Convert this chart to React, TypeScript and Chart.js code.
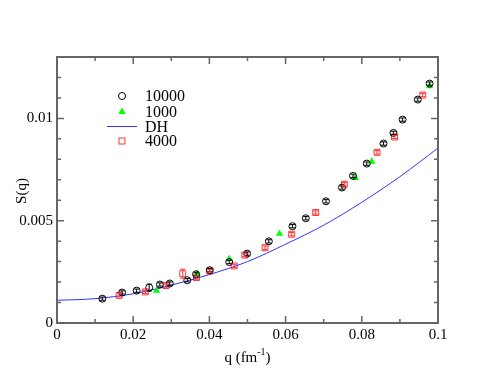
import React, { useEffect, useRef } from 'react';
import { Chart, registerables } from 'chart.js';
Chart.register(...registerables);

// ---- data ----
const q10000 = [0.0119, 0.0171, 0.0209, 0.0242, 0.027, 0.0296, 0.0342, 0.0365, 0.0401, 0.0452, 0.0499, 0.0556, 0.0618, 0.0653, 0.0706, 0.0748, 0.0777, 0.0813, 0.0857, 0.0883, 0.0907, 0.0947, 0.0978];
const s10000 = [0.00119, 0.00149, 0.00158, 0.00173, 0.00188, 0.00193, 0.00209, 0.00238, 0.00258, 0.00298, 0.00339, 0.00399, 0.00473, 0.00512, 0.00595, 0.00662, 0.00719, 0.00779, 0.00877, 0.00929, 0.00994, 0.01092, 0.0117];
const e10000 = [0.00008, 0.00008, 0.00008, 0.00017, 0.00008, 0.00008, 0.00008, 0.00008, 0.00008, 0.00008, 0.00008, 0.00008, 0.00008, 0.00008, 0.00008, 0.00008, 0.00008, 0.00008, 0.00008, 0.00008, 0.00008, 0.00008, 0.00008];

const q1000 = [0.0261, 0.0368, 0.0452, 0.0584, 0.0783, 0.0826, 0.0978];
const s1000 = [0.00158, 0.00241, 0.00313, 0.00437, 0.00709, 0.00789, 0.01158];

const q4000 = [0.0163, 0.0232, 0.0286, 0.033, 0.0366, 0.0401, 0.0465, 0.0493, 0.0546, 0.0616, 0.0679, 0.0754, 0.084, 0.0886, 0.096];
const s4000 = [0.00135, 0.00152, 0.00183, 0.00241, 0.00222, 0.00254, 0.00279, 0.00332, 0.00368, 0.00434, 0.0054, 0.00678, 0.00834, 0.00909, 0.01114];
const e4000 = [0.00008, 0.00008, 0.00008, 0.00022, 0.00008, 0.00008, 0.00008, 0.00008, 0.00008, 0.00008, 0.00008, 0.00008, 0.00008, 0.00008, 0.00008];

const qDH = [0, 0.01, 0.02, 0.03, 0.04, 0.05, 0.06, 0.07, 0.08, 0.09, 0.1];
const sDH = [0.00111, 0.00119, 0.00143, 0.00185, 0.00237, 0.003, 0.00385, 0.00478, 0.0059, 0.00715, 0.00855];

const legendLabels = ['10000', '1000', 'DH', '4000'];
const xMajor = [0, 0.02, 0.04, 0.06, 0.08, 0.1];
const xMinor = [0.01, 0.03, 0.05, 0.07, 0.09];
const yMajor = [0, 0.005, 0.01];
const yMinor = [0.001, 0.002, 0.003, 0.004, 0.006, 0.007, 0.008, 0.009, 0.011, 0.012];

const pts = (xs: number[], ys: number[]) => xs.map((x, i) => ({ x, y: ys[i] }));

const FONT = "'Liberation Serif', 'DejaVu Serif', serif";
const FRAME = '#666666';

export default function App() {
  const ref = useRef<HTMLCanvasElement>(null);
  useEffect(() => {
    document.body.style.margin = '0';
    const canvas = ref.current!;
    const errMap: Record<number, number[]> = { 0: e10000, 3: e4000 };

    const decor = {
      id: 'decor',
      afterDatasetsDraw(chart: any) {
        const ctx = chart.ctx;
        const xs = chart.scales.x;
        const ys = chart.scales.y;
        // error bars
        ctx.save();
        Object.keys(errMap).forEach((k) => {
          const di = Number(k);
          const ds = chart.data.datasets[di];
          const errs = errMap[di];
          ctx.strokeStyle = ds.borderColor;
          ctx.lineWidth = 1;
          (ds.data as any[]).forEach((p, i) => {
            const px = xs.getPixelForValue(p.x);
            const y1 = ys.getPixelForValue(p.y - errs[i]);
            const y2 = ys.getPixelForValue(p.y + errs[i]);
            ctx.beginPath();
            ctx.moveTo(px, y1); ctx.lineTo(px, y2);
            ctx.moveTo(px - 2.5, y1); ctx.lineTo(px + 2.5, y1);
            ctx.moveTo(px - 2.5, y2); ctx.lineTo(px + 2.5, y2);
            ctx.stroke();
          });
        });
        ctx.restore();
      },
      afterDraw(chart: any) {
        const ctx = chart.ctx;
        const a = chart.chartArea;
        const xs = chart.scales.x;
        const ys = chart.scales.y;
        ctx.save();
        // frame
        ctx.strokeStyle = FRAME;
        ctx.lineWidth = 2;
        ctx.strokeRect(a.left, a.top, a.right - a.left, a.bottom - a.top);
        ctx.lineWidth = 1.5;
        const xt = (v: number, len: number) => {
          const p = xs.getPixelForValue(v);
          ctx.beginPath();
          ctx.moveTo(p, a.bottom); ctx.lineTo(p, a.bottom - len);
          ctx.moveTo(p, a.top); ctx.lineTo(p, a.top + len);
          ctx.stroke();
        };
        const yt = (v: number, len: number) => {
          const p = ys.getPixelForValue(v);
          ctx.beginPath();
          ctx.moveTo(a.left, p); ctx.lineTo(a.left + len, p);
          ctx.moveTo(a.right, p); ctx.lineTo(a.right - len, p);
          ctx.stroke();
        };
        xMajor.forEach((v) => xt(v, 7));
        xMinor.forEach((v) => xt(v, 4));
        yMajor.forEach((v) => yt(v, 7));
        yMinor.forEach((v) => yt(v, 4));

        // axis titles
        ctx.fillStyle = '#000';
        ctx.font = `15px ${FONT}`;
        ctx.textBaseline = 'alphabetic';
        const main1 = 'q (fm';
        const sup = '-1';
        const main2 = ')';
        const w1 = ctx.measureText(main1).width;
        const w3 = ctx.measureText(main2).width;
        ctx.font = `10px ${FONT}`;
        const w2 = ctx.measureText(sup).width;
        const total = w1 + w2 + w3;
        const cx = (a.left + a.right) / 2;
        let x0 = cx - total / 2;
        const base = 362;
        ctx.font = `15px ${FONT}`;
        ctx.textAlign = 'left';
        ctx.fillText(main1, x0, base);
        ctx.font = `10px ${FONT}`;
        ctx.fillText(sup, x0 + w1, base - 7);
        ctx.font = `15px ${FONT}`;
        ctx.fillText(main2, x0 + w1 + w2, base);

        ctx.save();
        ctx.translate(22, 191);
        ctx.rotate(-Math.PI / 2);
        ctx.textAlign = 'center';
        ctx.textBaseline = 'middle';
        ctx.font = `15px ${FONT}`;
        ctx.fillText('S(q)', 0, 0);
        ctx.restore();

        // legend
        const lx = 122;
        const rows = [96, 111.5, 126.5, 141];
        ctx.font = `16px ${FONT}`;
        ctx.textAlign = 'left';
        ctx.textBaseline = 'middle';
        legendLabels.forEach((lab, i) => {
          const y = rows[i];
          ctx.fillStyle = '#000';
          ctx.fillText(lab, 145, y + 1);
        });
        // symbols
        ctx.lineWidth = 1;
        ctx.strokeStyle = '#000';
        ctx.beginPath();
        ctx.arc(lx, rows[0], 3.5, 0, Math.PI * 2);
        ctx.stroke();
        ctx.fillStyle = '#00ff00';
        ctx.beginPath();
        ctx.moveTo(lx, rows[1] - 4);
        ctx.lineTo(lx + 3.7, rows[1] + 2.5);
        ctx.lineTo(lx - 3.7, rows[1] + 2.5);
        ctx.closePath();
        ctx.fill();
        ctx.strokeStyle = '#3333ff';
        ctx.beginPath();
        ctx.moveTo(107, rows[2]);
        ctx.lineTo(137, rows[2]);
        ctx.stroke();
        ctx.strokeStyle = '#ff3333';
        ctx.strokeRect(lx - 3, rows[3] - 3, 6, 6);
        ctx.restore();
      },
    };

    const chart = new Chart(canvas, {
      type: 'scatter',
      data: {
        datasets: [
          {
            label: legendLabels[0],
            data: pts(q10000, s10000),
            pointStyle: 'circle',
            pointRadius: 3.5,
            borderColor: '#000000',
            backgroundColor: 'rgba(0,0,0,0)',
            borderWidth: 1,
            showLine: false,
          },
          {
            label: legendLabels[1],
            data: pts(q1000, s1000),
            pointStyle: 'triangle',
            pointRadius: 4.2,
            borderColor: '#00ff00',
            backgroundColor: '#00ff00',
            borderWidth: 0,
            showLine: false,
          },
          {
            label: legendLabels[2],
            data: pts(qDH, sDH),
            pointRadius: 0,
            borderColor: '#3333ff',
            backgroundColor: '#3333ff',
            borderWidth: 1,
            showLine: true,
            cubicInterpolationMode: 'monotone',
          },
          {
            label: legendLabels[3],
            data: pts(q4000, s4000),
            pointStyle: 'rect',
            pointRadius: 4.2,
            borderColor: '#ff3333',
            backgroundColor: 'rgba(0,0,0,0)',
            borderWidth: 1,
            showLine: false,
          },
        ],
      } as any,
      plugins: [decor],
      options: {
        responsive: false,
        animation: false,
        layout: { padding: { top: 57, right: 55, left: 0, bottom: 0 } },
        plugins: { legend: { display: false }, tooltip: { enabled: false } },
        scales: {
          x: {
            type: 'linear',
            min: 0,
            max: 0.1,
            grid: { display: false, drawTicks: false },
            border: { display: false },
            afterFit: (s: any) => { s.height = 58; },
            afterBuildTicks: (s: any) => { s.ticks = xMajor.map((v) => ({ value: v })); },
            ticks: {
              padding: 3,
              color: '#000',
              font: { family: FONT, size: 15 },
              callback: (v: any) => String(+Number(v).toFixed(3)),
            },
          },
          y: {
            type: 'linear',
            min: 0,
            max: 0.013,
            grid: { display: false, drawTicks: false },
            border: { display: false },
            afterFit: (s: any) => { s.width = 57; },
            afterBuildTicks: (s: any) => { s.ticks = yMajor.map((v) => ({ value: v })); },
            ticks: {
              padding: 4,
              color: '#000',
              font: { family: FONT, size: 15 },
              callback: (v: any) => String(+Number(v).toFixed(3)),
            },
          },
        },
      } as any,
    });
    return () => chart.destroy();
  }, []);
  return (
    <div style={{ width: 493, height: 381 }}>
      <canvas ref={ref} width={493} height={381} style={{ display: 'block' }} />
    </div>
  );
}
